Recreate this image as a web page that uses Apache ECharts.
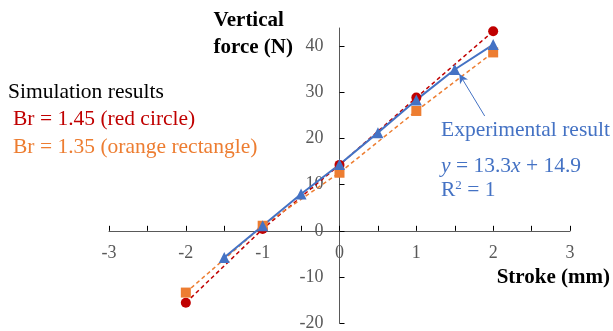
<!DOCTYPE html>
<html>
<head>
<meta charset="utf-8">
<script src="https://cdn.jsdelivr.net/npm/echarts@6/dist/echarts.min.js"></script>
<style>html,body{margin:0;padding:0;background:#fff}#c{width:613px;height:331px}</style>
</head>
<body>
<div id="c"></div>
<script>
var strokeSim = [-2, -1, 0, 1, 2];
var forceBr145 = [-15.6, 0.4, 14.3, 28.9, 43.3];
var forceBr135 = [-13.4, 1.1, 12.6, 26.0, 38.7];
var strokeExp = [-1.5, -1, -0.5, 0, 0.5, 1, 1.5, 2];
var forceExp = [-5.8, 1.1, 8.0, 14.4, 21.3, 28.4, 35.0, 40.4];
var yTicks = [-20, -10, 0, 10, 20, 30, 40];
var xTicks = [-3, -2, -1, 0, 1, 2, 3];
var leader = [[1.89, 24.9], [1.56, 34.0]];

function pairs(xs, ys) { return xs.map(function (x, i) { return [x, ys[i]]; }); }

var serif = '"Liberation Serif", "DejaVu Serif", serif';
var blue = '#4472C4';
var chart = echarts.init(document.getElementById('c'));
var option = {
  animation: false,
  grid: { left: 109, right: 43, top: 28, bottom: 8, containLabel: false, outerBoundsMode: 'none' },
  xAxis: {
    type: 'value', min: -3, max: 3, interval: 1, offset: 0,
    name: 'Stroke (mm)', nameLocation: 'end', nameGap: 40,
    nameTextStyle: { fontFamily: serif, fontWeight: 'bold', fontSize: 21, color: '#000', align: 'right', verticalAlign: 'top', padding: [36, 0, 0, 0] },
    axisLine: { onZero: false, lineStyle: { color: '#595959', width: 1 } },
    axisTick: { show: true, inside: true, length: 5, lineStyle: { color: '#000' } },
    minorTick: { show: true, splitNumber: 2, length: 5, lineStyle: { color: '#000' } },
    axisLabel: { customValues: xTicks, margin: 13, fontFamily: serif, fontSize: 18, color: '#595959' },
    splitLine: { show: false }
  },
  yAxis: {
    type: 'value', min: -20, max: 44, offset: 0,
    name: '{a|Vertical}\n{a|force (N)}', nameLocation: 'end', nameGap: -33,
    nameTextStyle: { align: 'right', padding: [0, 40, 0, 0],
      rich: { a: { fontFamily: serif, fontWeight: 'bold', fontSize: 21, color: '#000', width: 86, align: 'left', lineHeight: 27 } } },
    axisLine: { onZero: false, lineStyle: { color: '#595959', width: 1 } },
    axisTick: { show: true, inside: true, length: 5, customValues: yTicks, lineStyle: { color: '#000' } },
    axisLabel: { customValues: yTicks, margin: 16, fontFamily: serif, fontSize: 18, color: '#595959' },
    splitLine: { show: false }
  },
  series: [
    {
      name: 'Br = 1.45', type: 'line', data: pairs(strokeSim, forceBr145),
      symbol: 'circle', symbolSize: 10, itemStyle: { color: '#C00000' },
      lineStyle: { color: '#C00000', width: 1.5, type: [4, 3] }
    },
    {
      name: 'Br = 1.35', type: 'line', data: pairs(strokeSim, forceBr135),
      symbol: 'rect', symbolSize: 10, itemStyle: { color: '#ED7D31' },
      lineStyle: { color: '#ED7D31', width: 1.5, type: [4, 3] }
    },
    {
      name: 'Experimental', type: 'line', data: pairs(strokeExp, forceExp),
      symbol: 'triangle', symbolSize: 11, itemStyle: { color: blue },
      lineStyle: { color: blue, width: 2 },
      markLine: {
        silent: true, symbol: ['none', 'arrow'], symbolSize: [7, 9],
        label: { show: false },
        lineStyle: { color: blue, width: 1, type: 'solid' },
        data: [[{ coord: leader[0] }, { coord: leader[1] }]]
      }
    }
  ],
  graphic: [
    { type: 'text', left: 8, top: 81, style: { text: 'Simulation results', font: '21.5px ' + serif, fill: '#000' } },
    { type: 'text', left: 13, top: 108, style: { text: 'Br = 1.45 (red circle)', font: '21.5px ' + serif, fill: '#C00000' } },
    { type: 'text', left: 13, top: 136, style: { text: 'Br = 1.35 (orange rectangle)', font: '21.5px ' + serif, fill: '#ED7D31' } },
    { type: 'text', left: 441, top: 119, style: { text: 'Experimental result', font: '21.5px ' + serif, fill: blue } },
    { type: 'text', left: 441, top: 155, style: {
      rich: { i: { fontFamily: serif, fontSize: 21.5, fontStyle: 'italic', fill: blue }, n: { fontFamily: serif, fontSize: 21.5, fill: blue } },
      text: '{i|y}{n| = 13.3}{i|x}{n| + 14.9}' } },
    { type: 'text', left: 441, top: 179, style: {
      rich: { n: { fontFamily: serif, fontSize: 21.5, fill: blue }, s: { fontFamily: serif, fontSize: 13, fill: blue, verticalAlign: 'top', padding: [0, 0, 7, 0] } },
      text: '{n|R}{s|2}{n| = 1}' } }
  ]
};
chart.setOption(option);
// place both axes through the origin, using the library's own scale
var origin = chart.convertToPixel({ gridIndex: 0 }, [0, 0]);
var rect = chart.getModel().getComponent('grid', 0).coordinateSystem.getRect();
chart.setOption({
  xAxis: { offset: -((rect.y + rect.height) - origin[1]) },
  yAxis: { offset: -(origin[0] - rect.x) }
});
</script>
</body>
</html>
